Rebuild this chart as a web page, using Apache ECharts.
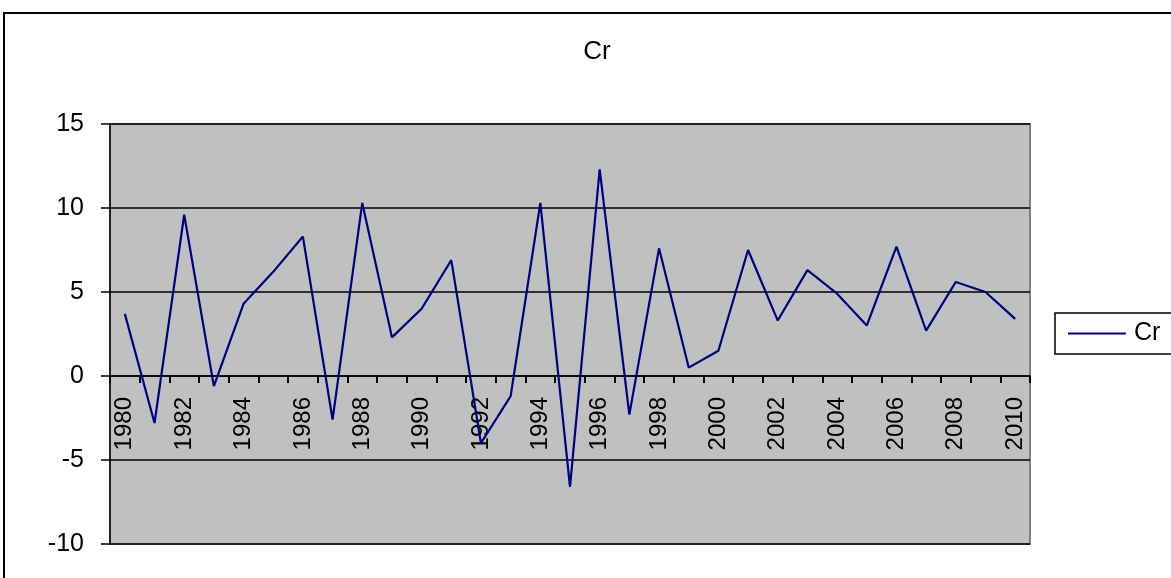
<!DOCTYPE html>
<html>
<head>
<meta charset="utf-8">
<script src="https://cdn.jsdelivr.net/npm/echarts@6/dist/echarts.min.js"></script>
<style>
  html, body { margin: 0; padding: 0; background: #ffffff; }
  #chart { width: 1171px; height: 578px; }
</style>
</head>
<body>
<div id="chart"></div>
<script>
// Annual Cr values, 1980-2010
var years = ['1980','1981','1982','1983','1984','1985','1986','1987','1988','1989',
             '1990','1991','1992','1993','1994','1995','1996','1997','1998','1999',
             '2000','2001','2002','2003','2004','2005','2006','2007','2008','2009','2010'];
var crValues = [3.7, -2.8, 9.6, -0.6, 4.3, 6.2, 8.3, -2.6, 10.3, 2.3,
                4.0, 6.9, -4.0, -1.2, 10.3, -6.6, 12.3, -2.3, 7.6, 0.5,
                1.5, 7.5, 3.3, 6.3, 4.9, 3.0, 7.7, 2.7, 5.6, 5.0, 3.4];
var seriesName = 'Cr';

var font = 'Arial, "Liberation Sans", sans-serif';
var chart = echarts.init(document.getElementById('chart'));

chart.setOption({
  animation: false,
  backgroundColor: '#ffffff',
  title: {
    text: seriesName,
    left: 592,
    top: 34,
    textAlign: 'center',
    textStyle: { fontFamily: font, fontSize: 26, fontWeight: 'normal', color: '#000000' }
  },
  legend: {
    left: 1055,
    top: 313,
    orient: 'vertical',
    borderColor: '#000000',
    borderWidth: 1.5,
    padding: [8, 40, 8, 13],
    itemWidth: 58,
    itemHeight: 2,
    itemGap: 0,
    icon: 'rect',
    textStyle: { fontFamily: font, fontSize: 25, color: '#000000', padding: [0, 0, 0, 3] },
    data: [seriesName]
  },
  grid: {
    left: 110,
    right: 141,
    top: 124,
    bottom: 34,
    outerBoundsMode: 'none',
    show: true,
    backgroundColor: '#c0c0c0',
    borderColor: '#808080',
    borderWidth: 2
  },
  xAxis: {
    type: 'category',
    data: years,
    boundaryGap: true,
    axisLine: { onZero: true, lineStyle: { color: '#000000', width: 1.5 } },
    axisTick: { show: true, interval: 0, length: 7, lineStyle: { color: '#000000', width: 2 } },
    axisLabel: {
      interval: 1,
      rotate: 90,
      // year labels sit just below the zero line, inside the plot
      margin: -147,
      fontFamily: font,
      fontSize: 24,
      color: '#000000'
    },
    splitLine: { show: false }
  },
  yAxis: {
    type: 'value',
    min: -10,
    max: 15,
    interval: 5,
    axisLine: { show: true, lineStyle: { color: '#000000', width: 1.5 } },
    axisTick: { show: true, length: 9, lineStyle: { color: '#000000', width: 1.5 } },
    axisLabel: { margin: 26, fontFamily: font, fontSize: 25, color: '#000000' },
    splitLine: { show: true, lineStyle: { color: '#000000', width: 1.5 } }
  },
  series: [{
    name: seriesName,
    type: 'line',
    data: crValues,
    symbol: 'none',
    z: 3,
    lineStyle: { color: '#000080', width: 2.2 },
    itemStyle: { color: '#000080' }
  }],
  graphic: [{
    type: 'rect',
    shape: { x: 4, y: 13, width: 1220, height: 620 },
    style: { fill: 'none', stroke: '#000000', lineWidth: 2 },
    silent: true,
    z: 100
  }]
});
</script>
</body>
</html>
